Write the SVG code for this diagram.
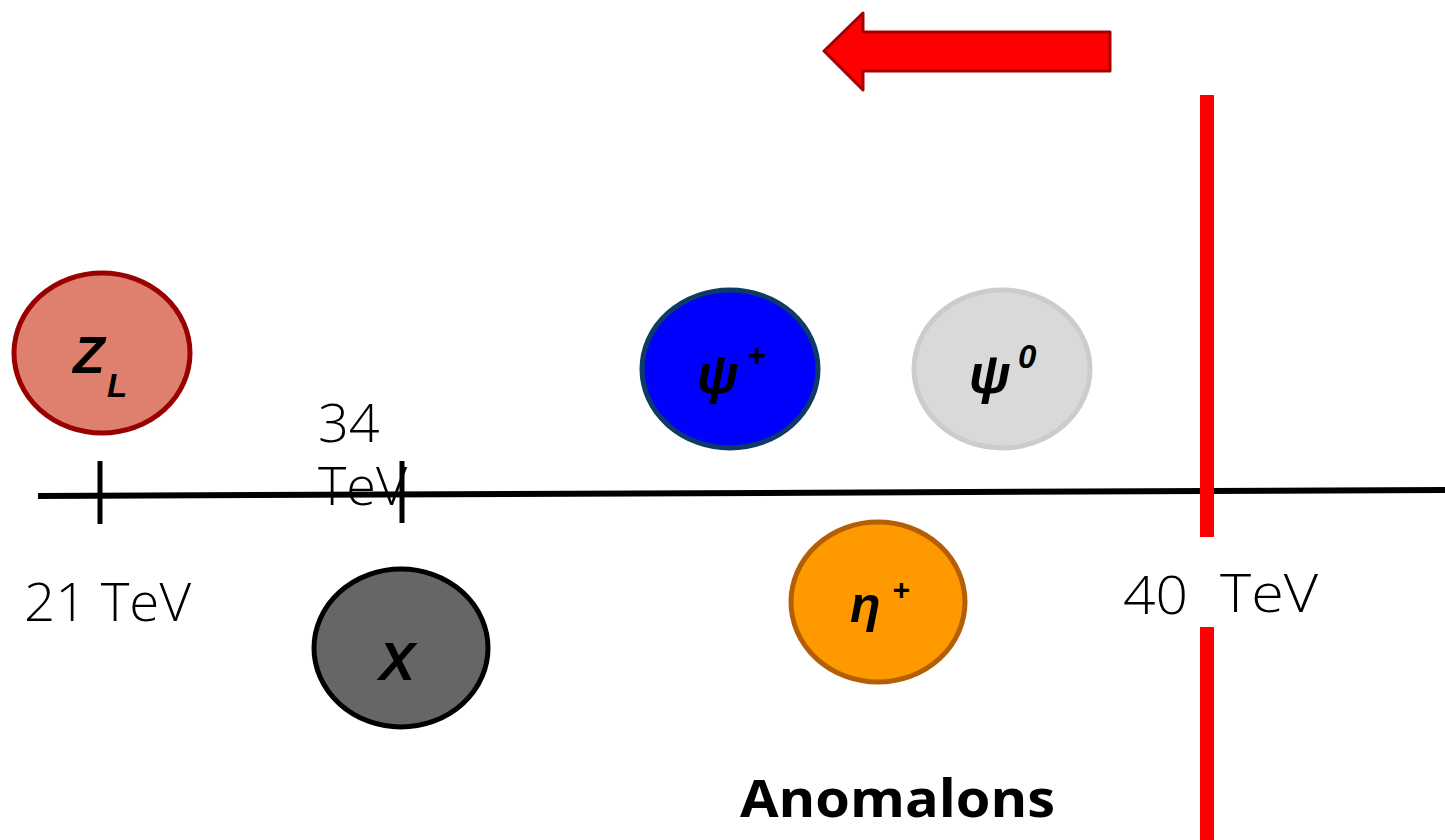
<svg xmlns="http://www.w3.org/2000/svg" width="1445" height="840" viewBox="0 0 1445 840">
<style>
.lbl{font-family:"Open Sans","Liberation Sans",sans-serif;font-weight:300;font-size:54px;fill:#000}
.sym{font-family:"Liberation Sans","DejaVu Sans",sans-serif;font-weight:bold;font-style:italic;fill:#000}
.node{stroke-width:5}
</style>
<rect width="1445" height="840" fill="#fff"/>
<g id="connectors">
<line x1="38" y1="496" x2="1445" y2="490" stroke="#000" stroke-width="6"/>
<line x1="100" y1="461" x2="100" y2="524" stroke="#000" stroke-width="5"/>
<line x1="402" y1="461" x2="402" y2="523" stroke="#000" stroke-width="5"/>
<rect x="1200" y="95" width="14" height="442" fill="#ff0000"/>
<rect x="1200" y="627" width="14" height="213" fill="#ff0000"/>
<path d="M1110,32 L863,32 L863,13 L824,51 L863,90 L863,71 L1110,71 Z" fill="#ff0000" stroke="#a50000" stroke-width="3" stroke-linejoin="round"/>
</g>
<g id="zl">
<ellipse class="node" cx="102" cy="353" rx="88" ry="80" fill="#df7f6e" stroke="#990000"/>
<text class="sym" x="73" y="373" font-size="52">Z</text>
<text class="sym" x="107" y="397" font-size="33">L</text>
</g>
<g id="x">
<ellipse class="node" cx="401" cy="648" rx="87" ry="79" fill="#666666" stroke="#000"/>
<text class="sym" x="379" y="680" font-size="54">X</text>
</g>
<g id="psiplus">
<ellipse class="node" cx="730" cy="369" rx="88" ry="79" fill="#0000ff" stroke="#0e3a66"/>
<text class="sym" x="697" y="393" font-size="54">ψ</text>
<text class="sym" x="747" y="366" font-size="32">+</text>
</g>
<g id="psizero">
<ellipse class="node" cx="1002" cy="369" rx="88" ry="79" fill="#d9d9d9" stroke="#cccccc"/>
<text class="sym" x="969" y="393" font-size="54">ψ</text>
<text class="sym" x="1018" y="368" font-size="33">0</text>
</g>
<g id="etaplus">
<ellipse class="node" cx="878" cy="602" rx="87" ry="80" fill="#ff9900" stroke="#b45f06"/>
<text class="sym" x="850" y="622" font-size="50">η</text>
<text class="sym" x="892" y="600" font-size="30">+</text>
</g>
<g id="labels">
<text class="lbl"><tspan x="318" y="442">34</tspan><tspan x="318" y="505">TeV</tspan></text>
<text class="lbl" x="24" y="621" textLength="167" lengthAdjust="spacingAndGlyphs">21 TeV</text>
<text class="lbl" x="1123" y="614" textLength="65" lengthAdjust="spacingAndGlyphs">40</text>
<text class="lbl" x="1220" y="612" font-size="56" textLength="98" lengthAdjust="spacingAndGlyphs">TeV</text>
<text x="740" y="817" font-family="'Open Sans','Liberation Sans',sans-serif" font-weight="bold" font-size="52" textLength="315" lengthAdjust="spacingAndGlyphs">Anomalons</text>
</g>
</svg>
